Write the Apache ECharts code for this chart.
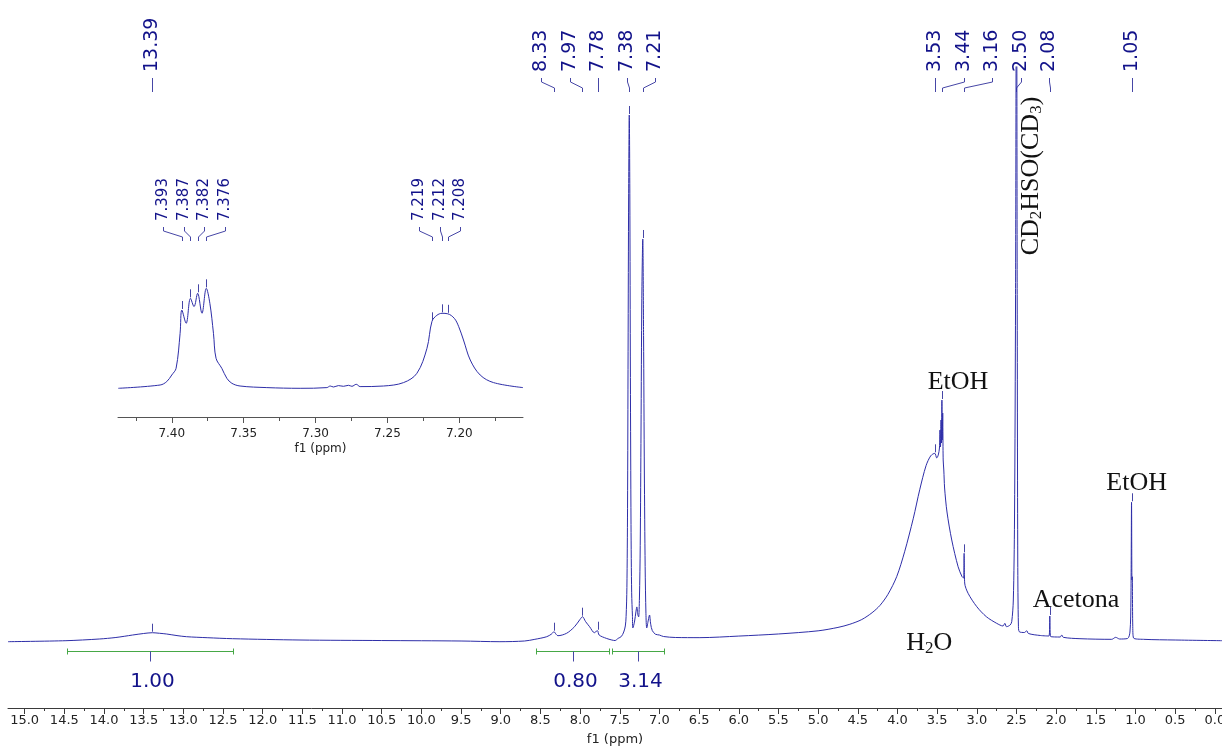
<!DOCTYPE html>
<html>
<head>
<meta charset="utf-8">
<title>1H NMR</title>
<script src="https://cdn.jsdelivr.net/npm/echarts@6/dist/echarts.min.js"></script>
<style>
  html, body { margin: 0; padding: 0; background: #ffffff; }
  #chart { width: 1222px; height: 748px; }
</style>
</head>
<body>
<div id="chart"></div>
<script>
// ---- Spectrum (chemical shift in ppm, relative intensity) ----
const mainPpm = [
  15.21, 14.48, 14.06, 13.85, 13.64, 13.50, 13.39, 13.30, 13.21, 13.08, 12.96, 12.70, 12.38, 11.53,
  10.50, 9.50, 9.01, 8.70, 8.57, 8.42, 8.36, 8.33, 8.30, 8.28, 8.17, 8.07, 8.00, 7.97, 7.93, 7.88,
  7.82, 7.80, 7.78, 7.76, 7.67, 7.60, 7.56, 7.52, 7.48, 7.45, 7.43, 7.42, 7.41, 7.402, 7.395, 7.388,
  7.38, 7.373, 7.366, 7.358, 7.35, 7.34, 7.335, 7.315, 7.295, 7.285, 7.272, 7.262, 7.252, 7.242,
  7.232, 7.222, 7.21, 7.20, 7.19, 7.18, 7.17, 7.16, 7.14, 7.125, 7.11, 7.09, 7.05, 7.00, 6.95,
  6.80, 6.49, 6.00, 5.50, 5.00, 4.75, 4.60, 4.45, 4.32, 4.22, 4.12, 4.01, 3.91, 3.80, 3.72, 3.64,
  3.58, 3.53, 3.505, 3.486, 3.471, 3.464, 3.458, 3.451, 3.445, 3.44, 3.435, 3.43, 3.424, 3.416,
  3.406, 3.376, 3.316, 3.236, 3.186, 3.167, 3.16, 3.153, 3.11, 3.00, 2.88, 2.75, 2.67, 2.647,
  2.626, 2.58, 2.56, 2.54, 2.525, 2.512, 2.50, 2.491, 2.484, 2.476, 2.465, 2.40, 2.37, 2.35, 2.20,
  2.09, 2.08, 2.07, 1.95, 1.93, 1.91, 1.70, 1.30, 1.25, 1.20, 1.10, 1.07, 1.058, 1.05, 1.045,
  1.041, 1.035, 1.025, 0.90, 0.50, -0.09
];
const mainIntensity = [
  -0.32, -0.13, 0.19, 0.48, 0.95, 1.24, 1.39, 1.28, 1.14, 0.84, 0.63, 0.44, 0.25, 0.00,
  -0.10, -0.19, -0.32, -0.19, 0.13, 0.63, 1.14, 1.58, 1.05, 0.82, 1.28, 2.53, 3.94, 4.44, 3.49, 2.53,
  1.39, 1.62, 1.77, 0.95, 0.32, 0.00, -0.10, 0.32, 0.67, 1.52, 2.67, 4.5, 10, 25, 55, 85,
  100, 85, 50, 22, 9, 4.5, 2.3, 3.4, 5.5, 6.3, 4.8, 4.4, 8, 18,
  40, 65, 76.38, 58, 32, 14, 5, 2.3, 3.8, 4.76, 3.0, 1.8, 1.1, 0.95, 0.67,
  0.48, 0.45, 0.75, 1.15, 1.75, 2.4, 3.0, 3.9, 5.2, 6.6, 8.7, 12.06, 16.8, 23.2, 28.6, 33.2,
  35.1, 35.56, 34.67, 35.24, 36.57, 40.00, 36.76, 41.90, 37.52, 45.71, 38.10, 43.24, 34.29, 32.38,
  28.95, 24.38, 19.05, 13.96, 12.06, 11.81, 16.51, 10.86, 8.90, 6.34, 4.44, 3.18, 2.67, 3.18,
  2.53, 2.86, 3.49, 7.62, 22.86, 64.76, 140, 64.76, 15.24, 2.86, 1.58, 1.43, 1.77, 1.24, 0.86,
  0.76, 4.57, 0.67, 0.57, 0.95, 0.51, 0.25, 0.13, 0.51, 0.19, 0.29, 1.52, 7.62, 26.23, 11.43,
  12.06, 2.86, 0.38, 0.13, 0.00, -0.13
];

// Picked peaks of the full spectrum
const peakPpm = [13.39, 8.33, 7.97, 7.78, 7.38, 7.21, 3.53, 3.44, 3.16, 2.50, 2.08, 1.05];
const peakIntensity = [1.39, 1.58, 4.44, 1.77, 100, 76.38, 35.56, 45.71, 16.51, 140, 4.57, 26.23];

// Expanded aromatic region (7.16 - 7.44 ppm)
const insetPpm = [
  7.4372, 7.4081, 7.4035, 7.4000, 7.3970, 7.3942, 7.393, 7.390, 7.387, 7.3845, 7.382, 7.379, 7.376,
  7.3735, 7.371, 7.3692, 7.3652, 7.3617, 7.3582, 7.3525, 7.3339, 7.3107, 7.2921, 7.2898, 7.2875,
  7.2841, 7.2806, 7.2771, 7.2747, 7.2717, 7.2690, 7.2527, 7.2388, 7.2295, 7.2225, 7.219, 7.2156,
  7.212, 7.208, 7.2035, 7.2005, 7.1971, 7.1924, 7.1855, 7.1762, 7.1557
];
const insetIntensity = [
  0, 3.3, 6.7, 13.3, 20, 55, 78.3, 65, 90, 81.7, 95, 75, 100,
  85, 55, 30, 20, 10, 5, 2.3, 0.7, 0, 0.7, 2.3, 1.3,
  2.7, 2, 3, 2, 4, 1.7, 2.3, 5.7, 15, 40, 67, 73,
  75, 74.5, 70, 62, 48.3, 28.3, 13.3, 5.7, 0.7
];
const insetPeakPpm = [7.393, 7.387, 7.382, 7.376, 7.219, 7.212, 7.208];
const insetPeakIntensity = [78.3, 90, 95, 100, 67, 75, 74.5];

// Integrals
const integralFrom = [14.47, 8.56, 7.60];
const integralTo = [12.37, 7.63, 6.94];
const integralValues = [1.00, 0.80, 3.14];

// Axis ticks
const mainTicks = [15.0, 14.5, 14.0, 13.5, 13.0, 12.5, 12.0, 11.5, 11.0, 10.5, 10.0, 9.5, 9.0, 8.5, 8.0,
  7.5, 7.0, 6.5, 6.0, 5.5, 5.0, 4.5, 4.0, 3.5, 3.0, 2.5, 2.0, 1.5, 1.0, 0.5, 0.0];
const mainMinorTicks = [14.75, 14.25, 13.75, 13.25, 12.75, 12.25, 11.75, 11.25, 10.75, 10.25, 9.75, 9.25,
  8.75, 8.25, 7.75, 7.25, 6.75, 6.25, 5.75, 5.25, 4.75, 4.25, 3.75, 3.25, 2.75, 2.25, 1.75, 1.25, 0.75, 0.25];
const insetTicks = [7.40, 7.35, 7.30, 7.25, 7.20];
const insetMinorTicks = [7.425, 7.375, 7.325, 7.275, 7.225, 7.175];

// Signal assignments
const annotationText = ['EtOH', 'EtOH', 'Acetona', 'H2O', 'CD2HSO(CD3)'];
const annotationPpm = [3.237, 0.985, 1.75, 3.60, 2.317];
const annotationIntensity = [49.14, 29.9, 7.62, -0.57, 88.38];

// ---- Styling ----
const NAVY = '#12128a';
const LINE = '#2e2ea8';
const LINK = '#4646a6';
const GREEN = '#46a846';
const AXIS = '#3a3a3a';
const SANS = '"DejaVu Sans", Verdana, sans-serif';
const SERIF = '"Liberation Serif", "Times New Roman", serif';
const verticalAnnotations = new Set(['CD2HSO(CD3)']);

function pairs(xs, ys) { return xs.map((x, i) => [x, ys[i]]); }
function crisp(v) { return Math.round(v) + 0.5; }

// Spread peak-label anchors so neighbouring labels keep a minimum gap
function spreadAnchors(xs, gap) {
  const order = xs.map((x, i) => i).sort((a, b) => xs[a] - xs[b]);
  const place = c => {
    const n = c.idx.length;
    const mid = (c.lo + c.hi) / 2;
    c.start = mid - (n - 1) * gap / 2;
    c.end = c.start + (n - 1) * gap;
    return c;
  };
  const clusters = order.map(i => place({ idx: [i], lo: xs[i], hi: xs[i] }));
  let merged = true;
  while (merged) {
    merged = false;
    for (let k = 0; k < clusters.length - 1; k++) {
      const a = clusters[k], b = clusters[k + 1];
      if (b.start - a.end < 2 * gap) {
        clusters.splice(k, 2, place({ idx: a.idx.concat(b.idx), lo: Math.min(a.lo, b.lo), hi: Math.max(a.hi, b.hi) }));
        merged = true;
        break;
      }
    }
  }
  const out = [];
  clusters.forEach(c => c.idx.forEach((i, j) => { out[i] = c.start + j * gap; }));
  return out;
}

function peakLabelRenderer(ppms, ints, cfg) {
  return function (params, api) {
    const i = params.dataIndex;
    const xs = ppms.map(p => api.coord([p, 0])[0]);
    const anchors = spreadAnchors(xs, cfg.gap);
    const top = api.coord([ppms[i], ints[i]]);
    const a = crisp(anchors[i]);
    const px = crisp(xs[i]);
    const y0 = cfg.linkTop;
    const children = [
      {
        type: 'text', x: a, y: y0 - 6, rotation: Math.PI / 2,
        style: {
          text: ppms[i].toFixed(cfg.digits), fill: NAVY, fontSize: cfg.fontSize, fontFamily: SANS,
          align: 'left', verticalAlign: 'middle', textAlign: 'left', textVerticalAlign: 'middle'
        }
      },
      {
        type: 'polyline',
        shape: { points: [[a, y0], [a, y0 + 4], [px, y0 + 10], [px, y0 + 14]] },
        style: { stroke: LINK, fill: null, lineWidth: 1 }
      }
    ];
    if (top[1] - 10 > params.coordSys.y) {
      children.push({
        type: 'line',
        shape: { x1: px, y1: top[1] - 1, x2: px, y2: top[1] - 9 },
        style: { stroke: LINK, lineWidth: 1 }
      });
    }
    return { type: 'group', children };
  };
}

function toRich(txt) {
  return '{n|' + txt.replace(/(\d)/g, '}{s|$1}{n|') + '}';
}
const RICH = {
  n: { fontSize: 26, fontFamily: SERIF, color: '#111', fill: '#111', lineHeight: 28 },
  s: { fontSize: 17, fontFamily: SERIF, color: '#111', fill: '#111', lineHeight: 12, verticalAlign: 'bottom' }
};

const chart = echarts.init(document.getElementById('chart'), null, { renderer: 'canvas' });

const option = {
  animation: false,
  backgroundColor: '#ffffff',
  grid: [
    { left: 8, top: 67, width: 1214, height: 641, containLabel: false, outerBoundsMode: 'none' },
    { left: 118, top: 278, width: 405, height: 139, containLabel: false, outerBoundsMode: 'none' }
  ],
  xAxis: [
    {
      gridIndex: 0, type: 'value', inverse: true, min: -0.09, max: 15.21, position: 'bottom',
      axisLine: { show: true, onZero: false, lineStyle: { color: AXIS, width: 1 } },
      axisTick: { show: true, length: 6, customValues: mainTicks, lineStyle: { color: AXIS } },
      axisLabel: {
        show: true, customValues: mainTicks, formatter: v => Number(v).toFixed(1),
        fontSize: 13, fontFamily: SANS, color: '#222', margin: 6
      },
      splitLine: { show: false },
      name: 'f1 (ppm)', nameLocation: 'middle', nameGap: 25,
      nameTextStyle: { fontSize: 13, fontFamily: SANS, color: '#222' }
    },
    {
      gridIndex: 0, type: 'value', inverse: true, min: -0.09, max: 15.21, position: 'bottom', offset: 0,
      axisLine: { show: false, onZero: false },
      axisTick: { show: true, length: 3, customValues: mainMinorTicks, lineStyle: { color: AXIS } },
      axisLabel: { show: false },
      splitLine: { show: false }
    },
    {
      gridIndex: 1, type: 'value', inverse: true, min: 7.1557, max: 7.4374, position: 'bottom',
      axisLine: { show: true, onZero: false, lineStyle: { color: '#555', width: 1 } },
      axisTick: { show: true, length: 6, customValues: insetTicks, lineStyle: { color: '#555' } },
      axisLabel: {
        show: true, customValues: insetTicks, formatter: v => Number(v).toFixed(2),
        fontSize: 12, fontFamily: SANS, color: '#222', margin: 11
      },
      splitLine: { show: false },
      name: 'f1 (ppm)', nameLocation: 'middle', nameGap: 26,
      nameTextStyle: { fontSize: 12, fontFamily: SANS, color: '#222' }
    },
    {
      gridIndex: 1, type: 'value', inverse: true, min: 7.1557, max: 7.4374, position: 'bottom', offset: 0,
      axisLine: { show: false, onZero: false },
      axisTick: { show: true, length: 4, customValues: insetMinorTicks, lineStyle: { color: '#555' } },
      axisLabel: { show: false },
      splitLine: { show: false }
    }
  ],
  yAxis: [
    { gridIndex: 0, type: 'value', min: -12.95, max: 109.14, show: false },
    { gridIndex: 1, type: 'value', min: -28.7, max: 110.3, show: false }
  ],
  series: [
    {
      name: 'spectrum', type: 'line', xAxisIndex: 0, yAxisIndex: 0,
      data: pairs(mainPpm, mainIntensity),
      showSymbol: false, symbol: 'none', smooth: 0.3, clip: true, silent: true,
      lineStyle: { color: LINE, width: 1 }
    },
    {
      name: 'expansion', type: 'line', xAxisIndex: 2, yAxisIndex: 1,
      data: pairs(insetPpm, insetIntensity),
      showSymbol: false, symbol: 'none', smooth: 0.35, clip: true, silent: true,
      lineStyle: { color: LINE, width: 1 }
    },
    {
      name: 'peaks', type: 'custom', xAxisIndex: 0, yAxisIndex: 0, clip: false, silent: true,
      data: pairs(peakPpm, peakIntensity),
      renderItem: peakLabelRenderer(peakPpm, peakIntensity, { gap: 28.5, linkTop: 78, fontSize: 19, digits: 2 })
    },
    {
      name: 'expansion peaks', type: 'custom', xAxisIndex: 2, yAxisIndex: 1, clip: false, silent: true,
      data: pairs(insetPeakPpm, insetPeakIntensity),
      renderItem: peakLabelRenderer(insetPeakPpm, insetPeakIntensity, { gap: 20.5, linkTop: 227, fontSize: 15, digits: 3 })
    },
    {
      name: 'integrals', type: 'custom', xAxisIndex: 0, yAxisIndex: 0, clip: false, silent: true,
      dimensions: ['from', 'to', 'value'],
      encode: { x: [0, 1], y: 2 },
      data: integralValues.map((v, i) => [integralFrom[i], integralTo[i], v]),
      renderItem: function (params, api) {
        const p1 = api.coord([api.value(0), 0]);
        const p2 = api.coord([api.value(1), 0]);
        const y = crisp(p1[1] + 11);
        const x1 = crisp(p1[0]), x2 = crisp(p2[0]);
        const xm = crisp((p1[0] + p2[0]) / 2);
        return {
          type: 'group',
          children: [
            { type: 'line', shape: { x1: x1, y1: y, x2: x2, y2: y }, style: { stroke: GREEN, lineWidth: 1 } },
            { type: 'line', shape: { x1: x1, y1: y - 3, x2: x1, y2: y + 3 }, style: { stroke: GREEN, lineWidth: 1 } },
            { type: 'line', shape: { x1: x2, y1: y - 3, x2: x2, y2: y + 3 }, style: { stroke: GREEN, lineWidth: 1 } },
            { type: 'line', shape: { x1: xm, y1: y, x2: xm, y2: y + 10 }, style: { stroke: LINK, lineWidth: 1 } },
            {
              type: 'text', x: xm + 2, y: y + 30,
              style: {
                text: api.value(2).toFixed(2), fill: NAVY, fontSize: 20, fontFamily: SANS,
                align: 'center', verticalAlign: 'middle', textAlign: 'center', textVerticalAlign: 'middle'
              }
            }
          ]
        };
      }
    },
    {
      name: 'assignments', type: 'custom', xAxisIndex: 0, yAxisIndex: 0, clip: false, silent: true,
      data: pairs(annotationPpm, annotationIntensity),
      renderItem: function (params, api) {
        const i = params.dataIndex;
        const p = api.coord([api.value(0), api.value(1)]);
        const txt = annotationText[i];
        return {
          type: 'text', x: p[0], y: p[1],
          rotation: verticalAnnotations.has(txt) ? Math.PI / 2 : 0,
          style: {
            text: toRich(txt), rich: RICH, fill: '#111', fontSize: 26, fontFamily: SERIF,
            align: 'center', verticalAlign: 'middle', textAlign: 'center', textVerticalAlign: 'middle'
          }
        };
      }
    }
  ]
};

chart.setOption(option);
</script>
</body>
</html>
